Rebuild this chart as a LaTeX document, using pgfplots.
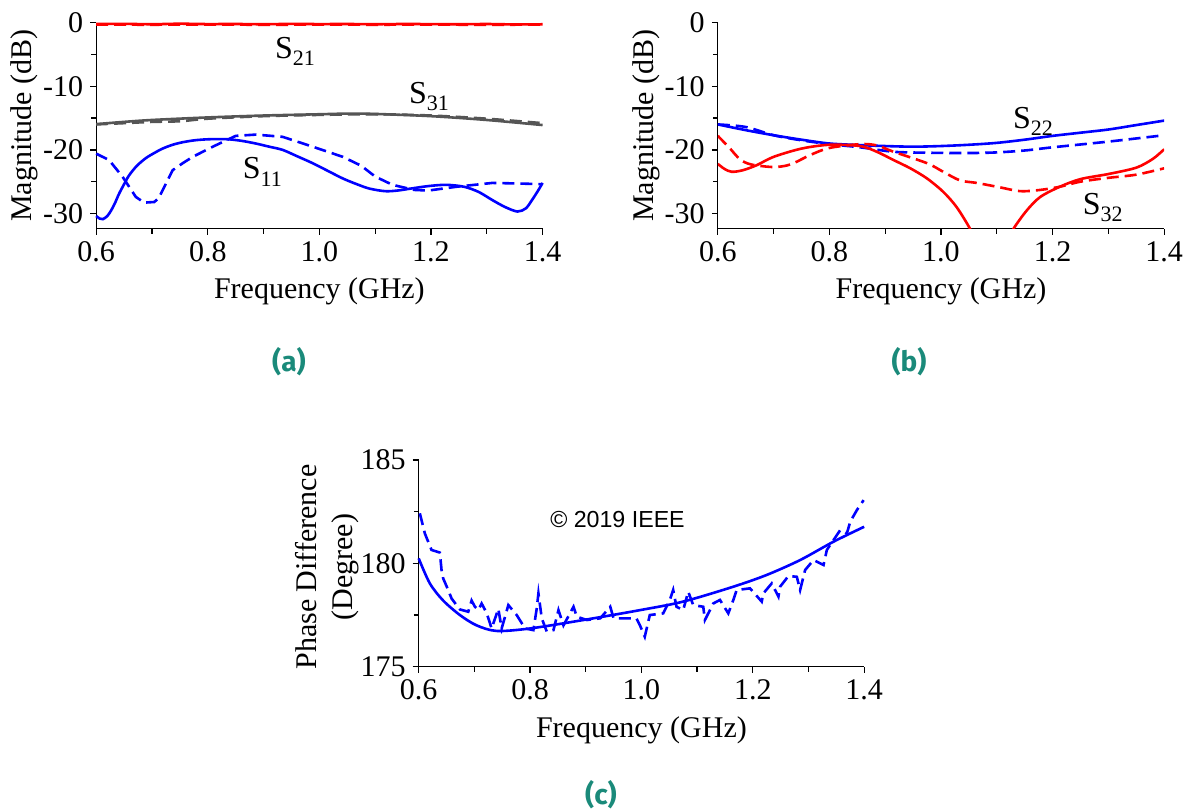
\documentclass[border=0pt]{standalone}
\usepackage{fontspec}
\setmainfont{Liberation Serif}
\newfontfamily\arialfont{Liberation Sans}
\newfontfamily\panelfont{Fira Sans}
\usepackage{pgfplots}
\pgfplotsset{compat=1.18}

\definecolor{sblue}{RGB}{0,0,255}
\definecolor{sred}{RGB}{255,0,0}
\definecolor{sgrey}{RGB}{85,85,85}
\definecolor{panelteal}{RGB}{26,138,122}

\newcommand{\Sp}[1]{S\raisebox{-3.8pt}{\fontsize{11}{11}\selectfont #1}}
\newcommand{\labfont}{\fontsize{15}{18}\selectfont}
\newcommand{\sfont}{\fontsize{16}{19}\selectfont}

\pgfplotsset{
  freqaxis/.style={
    scale only axis,
    anchor=south west,
    axis lines=left,
    axis line style={-, line width=0.65pt},
    tick align=outside,
    major tick length=3pt,
    minor tick length=2.4pt,
    tick style={black, line width=0.65pt},
    xmin=0.6, xmax=1.4,
    xtick={0.6,0.8,1.0,1.2,1.4},
    xticklabels={0.6,0.8,1.0,1.2,1.4},
    minor xtick={0.7,0.9,1.1,1.3},
    tick label style={font=\labfont},
    every axis x label/.style={at={(rel axis cs:0.5,-0.341)}, anchor=base, font=\labfont},
    xlabel={Frequency (GHz)},
  },
  magaxis/.style={
    freqaxis,
    width=223.2pt, height=103pt,
    ymin=-32.4, ymax=0,
    ytick={-30,-20,-10,0},
    yticklabels={-30,-20,-10,0},
    minor ytick={-25,-15,-5},
    ylabel={Magnitude (dB)},
  },
  sol/.style={line width=1.3pt},
  dsh/.style={line width=1.3pt, dash pattern=on 6pt off 3pt},
}

\begin{document}
\begin{tikzpicture}
\useasboundingbox (0,0) rectangle (595.5pt,405.5pt);

% ---------------- (a) S21, S31, S11 ----------------
\begin{axis}[magaxis, at={(48.1pt,291.15pt)}, clip=false,
  every axis y label/.style={at={(rel axis cs:-0.16,0.5)}, rotate=90, anchor=center, font=\labfont}]
\addplot[sred, sol] coordinates {
 (0.60,-0.20) (0.65,-0.18) (0.70,-0.25) (0.75,-0.15) (0.80,-0.22) (0.85,-0.20)
 (0.90,-0.25) (0.95,-0.18) (1.00,-0.22) (1.05,-0.20) (1.10,-0.25) (1.15,-0.20)
 (1.20,-0.22) (1.25,-0.25) (1.30,-0.20) (1.35,-0.28) (1.40,-0.25)};
\addplot[sred, dsh] coordinates {
 (0.60,-0.30) (0.70,-0.32) (0.80,-0.28) (0.90,-0.33) (1.00,-0.30)
 (1.10,-0.32) (1.20,-0.30) (1.30,-0.33) (1.40,-0.30)};
\addplot[sgrey, sol, smooth] coordinates {
 (0.60,-15.95) (0.65,-15.6) (0.70,-15.3) (0.80,-14.9) (0.90,-14.6) (1.00,-14.4)
 (1.05,-14.3) (1.10,-14.35) (1.20,-14.7) (1.30,-15.3) (1.40,-16.1)};
\addplot[sgrey, dsh, smooth] coordinates {
 (0.60,-16.0) (0.65,-15.8) (0.70,-15.6) (0.75,-15.5) (0.80,-15.1) (0.90,-14.7)
 (1.00,-14.5) (1.10,-14.4) (1.20,-14.6) (1.30,-15.1) (1.40,-15.8)};
\addplot[sblue, sol, smooth] coordinates {
 (0.600,-30.4) (0.606,-30.8) (0.612,-30.9) (0.620,-30.4) (0.627,-29.5) (0.634,-28.3)
 (0.641,-26.9) (0.650,-25.4) (0.659,-24.0) (0.673,-22.5) (0.689,-21.3) (0.704,-20.5)
 (0.719,-19.8) (0.737,-19.2) (0.755,-18.8) (0.776,-18.5) (0.797,-18.35) (0.818,-18.3)
 (0.839,-18.35) (0.862,-18.6) (0.886,-19.0) (0.910,-19.5) (0.934,-20.0) (0.960,-21.0)
 (0.988,-22.1) (1.015,-23.3) (1.042,-24.5) (1.067,-25.4) (1.090,-26.1) (1.118,-26.5)
 (1.140,-26.4) (1.163,-26.1) (1.195,-25.7) (1.227,-25.5) (1.259,-25.8) (1.285,-26.6)
 (1.310,-27.9) (1.333,-29.0) (1.355,-29.7) (1.370,-29.2) (1.381,-27.9) (1.392,-26.4)
 (1.400,-25.2)};
\addplot[sblue, dsh] coordinates {
 (0.600,-20.6) (0.623,-21.6) (0.647,-24.2) (0.671,-27.4) (0.686,-28.3) (0.704,-28.2)
 (0.712,-27.6) (0.725,-25.3) (0.737,-23.2) (0.755,-22.1) (0.773,-21.1) (0.809,-19.5)
 (0.850,-17.8) (0.886,-17.6) (0.934,-17.95) (0.988,-19.5) (1.042,-21.1) (1.075,-22.5)
 (1.100,-24.2) (1.131,-25.5) (1.170,-26.3) (1.195,-26.4) (1.246,-25.8) (1.310,-25.2)
 (1.360,-25.3) (1.400,-25.4)};
\node[anchor=base west, inner sep=0pt, font=\sfont] at (axis cs:0.920,-5.61) {\Sp{21}};
\node[anchor=base west, inner sep=0pt, font=\sfont] at (axis cs:1.160,-12.69) {\Sp{31}};
\node[anchor=base west, inner sep=0pt, font=\sfont] at (axis cs:0.862,-24.49) {\Sp{11}};
\end{axis}

% ---------------- (b) S22, S32 ----------------
\begin{axis}[magaxis, at={(358.9pt,291.15pt)},
  every axis y label/.style={at={(rel axis cs:-0.1604,0.5)}, rotate=90, anchor=center, font=\labfont}]
\addplot[sblue, sol, smooth] coordinates {
 (0.60,-16.0) (0.65,-16.9) (0.70,-17.7) (0.75,-18.4) (0.80,-19.0) (0.855,-19.25)
 (0.90,-19.4) (0.95,-19.5) (1.00,-19.4) (1.05,-19.2) (1.10,-18.9) (1.15,-18.4)
 (1.20,-17.8) (1.25,-17.3) (1.30,-16.8) (1.35,-16.1) (1.40,-15.4)};
\addplot[sblue, dsh, smooth] coordinates {
 (0.60,-16.0) (0.65,-16.4) (0.70,-17.7) (0.75,-18.5) (0.80,-19.1) (0.855,-19.6)
 (0.915,-20.3) (0.975,-20.45) (1.05,-20.5) (1.10,-20.4) (1.15,-20.1) (1.20,-19.6)
 (1.30,-18.7) (1.40,-17.7)};
\addplot[sred, sol, smooth] coordinates {
 (0.600,-22.2) (0.612,-23.0) (0.625,-23.45) (0.645,-23.2) (0.670,-22.4) (0.700,-21.1)
 (0.750,-19.8) (0.800,-19.2) (0.855,-19.4) (0.885,-20.3) (0.915,-21.6) (0.945,-22.9)
 (0.975,-24.5) (1.004,-26.6) (1.028,-29.0) (1.052,-32.4) (1.065,-35.0)};
\addplot[sred, sol, smooth] coordinates {
 (1.115,-35.0) (1.130,-32.4) (1.154,-29.5) (1.178,-27.4) (1.213,-25.8) (1.250,-24.6)
 (1.300,-23.8) (1.350,-22.8) (1.380,-21.4) (1.400,-19.9)};
\addplot[sred, dsh, smooth] coordinates {
 (0.600,-17.8) (0.620,-19.6) (0.640,-21.5) (0.660,-22.3) (0.700,-22.7) (0.730,-22.3)
 (0.766,-20.8) (0.800,-19.7) (0.855,-19.1) (0.885,-19.3) (0.915,-20.3) (0.975,-22.1)
 (1.004,-23.45) (1.034,-24.8) (1.064,-25.2) (1.106,-25.9) (1.142,-26.5) (1.178,-26.3)
 (1.213,-25.8) (1.250,-25.0) (1.300,-24.4) (1.350,-23.9) (1.400,-22.9)};
\node[anchor=base west, inner sep=0pt, font=\sfont] at (axis cs:1.1286,-16.62) {\Sp{22}};
\node[anchor=base west, inner sep=0pt, font=\sfont] at (axis cs:1.2535,-30.1) {\Sp{32}};
\end{axis}

% ---------------- (c) phase difference ----------------
\begin{axis}[freqaxis, at={(209.35pt,72.15pt)}, clip=false,
  width=222.75pt, height=103.35pt,
  ymin=175, ymax=185,
  ytick={175,180,185},
  yticklabels={175,180,185},
  minor ytick={177.5,182.5},
  ylabel={Phase Difference\\(Degree)},
  every axis y label/.style={at={(rel axis cs:-0.206,0.482)}, rotate=90, anchor=center,
    align=center, font=\labfont}]
\addplot[sblue, sol, smooth] coordinates {
 (0.600,180.24) (0.620,179.03) (0.644,178.2) (0.674,177.5) (0.704,177.0) (0.740,176.73)
 (0.800,176.85) (0.896,177.26) (0.998,177.74) (1.075,178.15) (1.165,178.87)
 (1.225,179.44) (1.285,180.16) (1.345,181.05) (1.400,181.77)};
\addplot[sblue, dsh] coordinates {
 (0.602,182.42) (0.611,181.45) (0.623,180.65) (0.638,180.52) (0.641,179.68) (0.644,179.27)
 (0.653,178.71) (0.659,178.3) (0.674,177.77) (0.689,177.66) (0.695,178.2) (0.701,177.9)
 (0.707,177.74) (0.713,178.06) (0.722,177.6) (0.731,176.85) (0.743,177.8) (0.749,176.85)
 (0.761,177.98) (0.776,177.5) (0.791,176.85) (0.806,176.77) (0.812,177.82) (0.815,178.55)
 (0.821,177.34) (0.830,176.7) (0.842,176.77) (0.851,177.74) (0.860,177.0) (0.878,177.9)
 (0.884,177.42) (0.902,177.26) (0.926,177.34) (0.944,177.9) (0.950,177.34) (0.991,177.34)
 (0.997,177.02) (1.006,176.45) (1.015,177.5) (1.039,177.58) (1.051,178.23) (1.057,178.71)
 (1.063,177.9) (1.075,177.74) (1.084,178.63) (1.093,177.98) (1.111,177.9) (1.114,177.26)
 (1.129,178.06) (1.141,178.23) (1.156,177.58) (1.165,178.23) (1.171,178.71) (1.195,178.79)
 (1.216,178.15) (1.219,178.55) (1.234,179.03) (1.246,178.39) (1.249,178.87) (1.264,179.39)
 (1.279,179.35) (1.285,178.71) (1.294,179.68) (1.309,180.16) (1.327,179.92) (1.333,180.65)
 (1.345,181.13) (1.357,181.61) (1.369,181.45) (1.375,182.02) (1.387,182.58) (1.399,183.06)};
\node[anchor=center, inner sep=0pt, font=\arialfont\fontsize{11.6}{14}\selectfont] at (axis cs:0.957,182.1) {\textcopyright{} 2019 IEEE};
\end{axis}

% panel captions
\node[font=\panelfont\bfseries\fontsize{14}{16}\selectfont, text=panelteal] at (144.5pt,224.5pt) {(a)};
\node[font=\panelfont\bfseries\fontsize{14}{16}\selectfont, text=panelteal] at (454.5pt,224.5pt) {(b)};
\node[font=\panelfont\bfseries\fontsize{14}{16}\selectfont, text=panelteal] at (300.5pt,8pt) {(c)};
\end{tikzpicture}
\end{document}
